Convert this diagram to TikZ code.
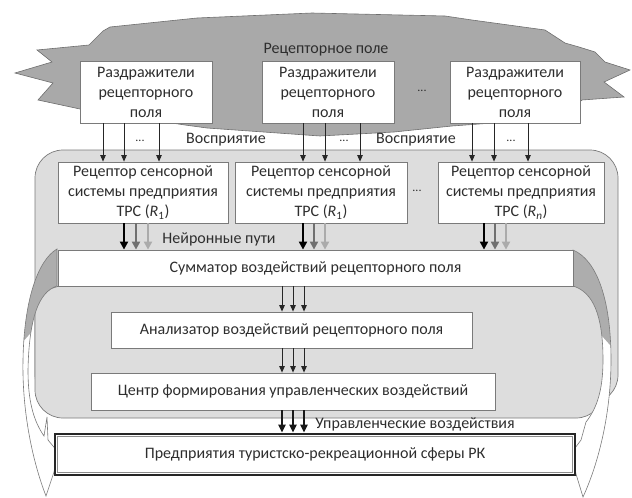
\documentclass[tikz,border=0pt]{standalone}
\usepackage{fontspec}
\setmainfont{Carlito}
\usetikzlibrary{arrows.meta}
\definecolor{cloudg}{HTML}{A9A9A9}
\definecolor{cloudl}{HTML}{6E6E6E}
\definecolor{panel}{HTML}{DDDDDD}
\definecolor{edgeg}{HTML}{7A7A7A}
\definecolor{txt}{HTML}{2E2E2E}
\definecolor{tabg}{HTML}{ADADAD}
\definecolor{midg}{HTML}{707070}
\definecolor{lightg}{HTML}{ABABAB}
\begin{document}
\begin{tikzpicture}[x=1pt,y=-1pt,
 box/.style={draw=edgeg, line width=0.8pt, fill=white, text=txt, align=center,
   font=\fontsize{16}{20}\selectfont, inner sep=0pt},
 lbl/.style={text=txt, font=\fontsize{16}{18}\selectfont, inner sep=0pt},
 dots/.style={text=txt, font=\fontsize{12}{14}\selectfont, inner sep=0pt},
 thinarr/.style={-{Triangle[length=6.5pt,width=5.5pt]}, line width=0.8pt, draw=black!85, fill=black!85},
 thickarr/.style={-{Triangle[length=8pt,width=8pt]}, line width=2.2pt},
 bandline/.style={draw=edgeg, line width=0.6pt}
]
\useasboundingbox (0,0) rectangle (632,498);
% receptor field cloud
\filldraw[fill=cloudg, draw=cloudl, line width=0.6pt]
 (103,31) -- (110,27) -- (197,18) -- (312,13) -- (445,16) -- (472,20) -- (545,30)
 -- (565,43) -- (579,47) -- (595,52) -- (605,62) -- (630,70) -- (604,82) -- (624,97)
 -- (582,100) -- (560,118) -- (452,126) -- (394,132) -- (320,136) -- (207,128)
 -- (185,125) -- (80,109) -- (38,100) -- (53,83) -- (15,73) -- (52,62) -- (37,50)
 -- (89,45) -- cycle;
% panels
\filldraw[fill=panel, draw=edgeg, line width=0.7pt, rounded corners=28pt]
 (35,150) rectangle (618,403);
\filldraw[fill=panel, draw=edgeg, line width=0.7pt, rounded corners=28pt]
 (35,286) rectangle (604,418);
% left band
\def\lband{(57,249) .. controls (38,260) and (24,300) .. (23,360)
  .. controls (22,410) and (32,460) .. (46,496) -- (54,472) -- (58,452) -- (48,440)
  -- (47,417) -- (44,436) .. controls (33,420) and (28,400) .. (28,370)
  .. controls (29,320) and (38,292) .. (57,286) -- cycle}
\fill[white] \lband;
\begin{scope}
 \clip \lband;
 \fill[tabg] (0,240) -- (60,240) -- (60,300) -- (20,345) -- (0,345) -- cycle;
\end{scope}
\draw[bandline] \lband;
% right band
\def\rband{(573,250) .. controls (597,260) and (611,300) .. (611,360)
  .. controls (611,410) and (600,460) .. (583,497) -- (576,474) -- (572,452) -- (581,440)
  -- (586,422) .. controls (597,408) and (603,390) .. (603,360)
  .. controls (603,315) and (593,292) .. (573,286) -- cycle}
\fill[white] \rband;
\begin{scope}
 \clip \rband;
 \fill[tabg] (570,240) -- (640,240) -- (640,345) -- (610,345) -- (570,300) -- cycle;
\end{scope}
\draw[bandline] \rband;
% top boxes
\node[box, minimum width=132pt, minimum height=62pt] (t1) at (146,92)
 {Раздражители\\рецепторного\\поля};
\node[box, minimum width=132pt, minimum height=62pt] (t2) at (328,92)
 {Раздражители\\рецепторного\\поля};
\node[box, minimum width=130pt, minimum height=62pt] (t3) at (515,92)
 {Раздражители\\рецепторного\\поля};
\node[lbl] (field) at (326,50) {Рецепторное поле};
\node[dots] (d0) at (422,91) {...};
% receptor boxes
\node[box, minimum width=170pt, minimum height=61pt] (ra) at (143,192.5)
 {Рецептор сенсорной\\системы предприятия\\ТРС (\textit{R}\textsubscript{1})};
\node[box, minimum width=172pt, minimum height=61pt] (rb) at (321,192.5)
 {Рецептор сенсорной\\системы предприятия\\ТРС (\textit{R}\textsubscript{1})};
\node[box, minimum width=166pt, minimum height=61pt] (rc) at (521,192.5)
 {Рецептор сенсорной\\системы предприятия\\ТРС (\textit{R}\textsubscript{\textit{n}})};
\node[dots] (d4) at (417,191) {...};
% perception arrows
\foreach \xx in {103,124,159} \draw[thinarr] (t1.south -| \xx,0) -- (ra.north -| \xx,0);
\foreach \xx in {303,325,360} \draw[thinarr] (t2.south -| \xx,0) -- (rb.north -| \xx,0);
\foreach \xx in {472,494,528} \draw[thinarr] (t3.south -| \xx,0) -- (rc.north -| \xx,0);
\node[dots] (d1) at (140,141) {...};
\node[dots] (d2) at (344,141) {...};
\node[dots] (d3) at (511,141) {...};
\node[lbl] (per1) at (226,140) {Восприятие};
\node[lbl] (per2) at (416,140) {Восприятие};
% summator
\node[box, minimum width=515pt, minimum height=36pt] (sum) at (315.5,268)
 {Сумматор воздействий рецепторного поля};
% neural paths
\foreach \xx/\cc in {124/black,136/midg,148/lightg}
 \draw[thickarr, draw=\cc, fill=\cc] (ra.south -| \xx,0) -- (sum.north -| \xx,0);
\foreach \xx/\cc in {303/black,314/midg,325/lightg}
 \draw[thickarr, draw=\cc, fill=\cc] (rb.south -| \xx,0) -- (sum.north -| \xx,0);
\foreach \xx/\cc in {484/black,495/midg,506/lightg}
 \draw[thickarr, draw=\cc, fill=\cc] (rc.south -| \xx,0) -- (sum.north -| \xx,0);
\node[lbl] (neur) at (219,239) {Нейронные пути};
% analyzer and center
\node[box, minimum width=361pt, minimum height=36pt] (ana) at (291.5,330)
 {Анализатор воздействий рецепторного поля};
\node[box, minimum width=404pt, minimum height=37pt] (cen) at (293,391.5)
 {Центр формирования управленческих воздействий};
\foreach \xx in {282,293,304} \draw[thinarr, line width=0.9pt] (sum.south -| \xx,0) -- (ana.north -| \xx,0);
\foreach \xx in {282,293,304} \draw[thinarr, line width=0.9pt] (ana.south -| \xx,0) -- (cen.north -| \xx,0);
% bottom box
\node[box, draw=black!85, line width=2.6pt, minimum width=520pt, minimum height=41pt] (bot) at (315,454.5)
 {Предприятия туристско-рекреационной сферы РК};
\draw[draw=black!45, line width=1.4pt] ([shift={(3.6,3.6)}]bot.north west) rectangle ([shift={(-3.6,-3.6)}]bot.south east);
\foreach \xx in {282,293,304} \draw[thickarr, line width=2.4pt, draw=black!90, fill=black!90, -{Triangle[length=8pt,width=7pt]}] (cen.south -| \xx,0) -- (bot.north -| \xx,0);
\node[lbl] (ctrl) at (415,424) {Управленческие воздействия};
\end{tikzpicture}
\end{document}
